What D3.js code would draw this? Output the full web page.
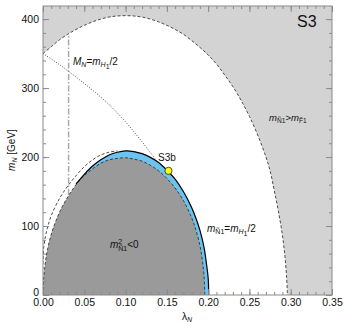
<!DOCTYPE html>
<html>
<head>
<meta charset="utf-8">
<script src="https://d3js.org/d3.v7.min.js"></script>
<style>
  body { margin: 0; background: #fff; }
  svg text { font-family: "Liberation Sans", Arial, sans-serif; fill: #111; }
  .eixo line { stroke: #8a8a8a; }
  .eixo path { display: none; }
  .eixo text { font-size: 10.5px; }
</style>
</head>
<body>
<div id="chart"></div>
<script>
"use strict"

// curvas: [lambda_N, m_N (GeV)]
var limiteFermion = [[0,350],[0.01,360],[0.02,370],[0.03,378],[0.04,385],[0.05,391],[0.06,396],[0.07,400],
  [0.08,403],[0.09,404.5],[0.10,405],[0.11,404.5],[0.12,403],[0.13,400],[0.14,396],[0.15,391],[0.16,385],
  [0.17,378],[0.18,369],[0.19,359],[0.20,348],[0.21,335],[0.22,319],[0.23,302],[0.24,282],[0.25,259],
  [0.26,232],[0.27,200],[0.275,180],[0.28,152],[0.285,122],[0.29,86],[0.293,56],[0.295,26],[0.296,0]];

var massaNegativa = [[0,0],[0.001,28],[0.003,48],[0.005,63],[0.01,88],[0.02,120],[0.03,142],[0.04,160],
  [0.05,173],[0.06,183],[0.07,191],[0.08,196],[0.09,198],[0.10,199],[0.11,197],[0.12,194],[0.13,188],
  [0.14,180],[0.15,169],[0.16,155],[0.17,137],[0.18,112],[0.185,95],[0.19,72],[0.193,50],[0.195,28],[0.196,0]];

var metadeHiggs = [[0.04,161],[0.05,175],[0.06,187],[0.07,196],[0.08,203],[0.09,207],[0.10,209],[0.11,208],
  [0.12,205],[0.13,199.5],[0.14,192],[0.15,181],[0.16,168],[0.17,150],[0.18,127],[0.185,112],[0.19,94],
  [0.195,69],[0.198,45],[0.2,25],[0.2007,0]];

var curvaEsquerda = [[0,45],[0.001,70],[0.003,85],[0.006,100],[0.01,115],[0.02,140],[0.03,158],[0.04,173],
  [0.05,186],[0.06,196],[0.07,203],[0.08,207],[0.09,209]];

var curvaPontilhada = [[0,350],[0.02,334],[0.04,316],[0.06,297],[0.08,276],[0.10,251],[0.12,222],[0.138,194]];

var linhaVertical = [[0.031,145],[0.031,378]];
var pontoS3b = [[0.152,180]];

var ticksX = [0, 0.05, 0.10, 0.15, 0.20, 0.25, 0.30, 0.35];
var ticksY = [0, 100, 200, 300, 400];
var ticksXmenor = d3.range(0, 0.351, 0.01);
var ticksYmenor = d3.range(0, 420, 20);

var larguraSVG = 344, alturaSVG = 324;
var margin = {top: 6, right: 12, bottom: 29, left: 43},
    larguraVis = larguraSVG - margin.left - margin.right,
    alturaVis = alturaSVG - margin.top - margin.bottom;

var svg = d3.select('#chart').append('svg')
    .attr('width', larguraSVG).attr('height', alturaSVG);
var grafico = svg.append('g')
    .attr('transform', 'translate(' + margin.left + ',' + margin.top + ')');

var x = d3.scaleLinear().domain([0, 0.35]).range([0, larguraVis]);
var y = d3.scaleLinear().domain([0, 419]).range([alturaVis, 0]);

grafico.append('clipPath').attr('id', 'recorte')
  .append('rect').attr('width', larguraVis).attr('height', alturaVis);

var area = d3.area().x(d => x(d[0])).y0(y(0)).y1(d => y(d[1])).curve(d3.curveCatmullRom);
var linha = d3.line().x(d => x(d[0])).y(d => y(d[1])).curve(d3.curveCatmullRom);

var regioes = grafico.append('g').attr('clip-path', 'url(#recorte)');

regioes.append('rect').attr('width', larguraVis).attr('height', alturaVis).attr('fill', '#d3d3d3');
regioes.append('path').datum(limiteFermion).attr('d', area).attr('fill', '#fff');
regioes.append('path').datum(metadeHiggs).attr('d', area).attr('fill', '#6cc3f0');
regioes.append('path').datum(massaNegativa).attr('d', area).attr('fill', '#9a9a9a');

regioes.append('path').datum(linhaVertical).attr('d', d3.line().x(d => x(d[0])).y(d => y(d[1])))
  .attr('fill', 'none').attr('stroke', '#aaa').attr('stroke-width', 1.5).attr('stroke-dasharray', '6,2,1.5,2');

regioes.append('path').datum(curvaPontilhada).attr('d', linha)
  .attr('fill', 'none').attr('stroke', '#222').attr('stroke-width', 0.8).attr('stroke-dasharray', '1,1.6');

regioes.append('path').datum(limiteFermion).attr('d', linha)
  .attr('fill', 'none').attr('stroke', '#222').attr('stroke-width', 0.8).attr('stroke-dasharray', '3,2');

regioes.append('path').datum(curvaEsquerda).attr('d', linha)
  .attr('fill', 'none').attr('stroke', '#222').attr('stroke-width', 0.8).attr('stroke-dasharray', '3,2');

regioes.append('path').datum(massaNegativa).attr('d', linha)
  .attr('fill', 'none').attr('stroke', '#222').attr('stroke-width', 0.8).attr('stroke-dasharray', '3,2');

regioes.append('path').datum(metadeHiggs).attr('d', linha)
  .attr('fill', 'none').attr('stroke', '#000').attr('stroke-width', 1.2);

regioes.selectAll('circle').data(pontoS3b).enter().append('circle')
  .attr('cx', d => x(d[0])).attr('cy', d => y(d[1])).attr('r', 3.6)
  .attr('fill', '#ffff00').attr('stroke', '#222').attr('stroke-width', 0.8);

// eixos com ticks para dentro
function eixo(gerador, transf, valores, tam, fmt) {
  return grafico.append('g').attr('class', 'eixo').attr('transform', transf)
    .call(gerador.tickValues(valores).tickSize(-tam).tickPadding(4).tickFormat(fmt));
}
var semTexto = () => '';
eixo(d3.axisBottom(x), 'translate(0,' + alturaVis + ')', ticksXmenor, 3, semTexto);
eixo(d3.axisBottom(x), 'translate(0,' + alturaVis + ')', ticksX, 6, d3.format('.2f'));
eixo(d3.axisTop(x), 'translate(0,0)', ticksXmenor, 3, semTexto);
eixo(d3.axisTop(x), 'translate(0,0)', ticksX, 6, semTexto);
eixo(d3.axisLeft(y), 'translate(0,0)', ticksYmenor, 3, semTexto);
var eixoY = eixo(d3.axisLeft(y), 'translate(0,0)', ticksY, 6, d3.format('d'));
eixoY.selectAll('text').filter(d => d === 0).attr('dy', '0.05em');
eixo(d3.axisRight(y), 'translate(' + larguraVis + ',0)', ticksYmenor, 3, semTexto);
eixo(d3.axisRight(y), 'translate(' + larguraVis + ',0)', ticksY, 6, semTexto);

grafico.append('rect').attr('width', larguraVis).attr('height', alturaVis)
  .attr('fill', 'none').attr('stroke', '#8a8a8a').attr('stroke-width', 1);

// rótulos: cada parte {t, i: itálico, dy: deslocamento, p: pequeno, dx}
function rotulo(pai, px, py, partes, tam) {
  var t = pai.append('text').attr('x', px).attr('y', py).style('font-size', tam + 'px');
  partes.forEach(function(p) {
    var s = t.append('tspan').text(p.t)
      .style('font-size', (p.p ? tam * 0.7 : tam) + 'px')
      .style('font-style', p.i ? 'italic' : 'normal');
    if (p.dy) s.attr('dy', p.dy);
    if (p.dx) s.attr('dx', p.dx);
  });
  return t;
}

rotulo(svg, 297, 27, [{t: 'S3'}], 16);
rotulo(svg, 158, 161, [{t: 'S3b'}], 10);
rotulo(svg, 73, 65, [{t: 'M', i: 1}, {t: 'N', i: 1, p: 1, dy: 2}, {t: '=', dy: -2}, {t: 'm', i: 1},
  {t: 'H', i: 1, p: 1, dy: 2}, {t: '1', p: 1, dy: 1.5}, {t: '/2', dy: -3.5}], 10);
rotulo(svg, 269, 121, [{t: 'm', i: 1}, {t: 'Ñ1', p: 1, dy: 2}, {t: '>', dy: -2}, {t: 'm', i: 1},
  {t: 'F̃1', p: 1, dy: 2}], 9.5);
rotulo(svg, 207, 232, [{t: 'm', i: 1}, {t: 'Ñ1', p: 1, dy: 2}, {t: '=', dy: -2}, {t: 'm', i: 1},
  {t: 'H', i: 1, p: 1, dy: 2}, {t: '1', p: 1, dy: 1.5}, {t: '/2', dy: -3.5}], 10);
rotulo(svg, 110, 248, [{t: 'm', i: 1}, {t: '2', p: 1, dy: -4}, {t: 'Ñ1', p: 1, dx: -4, dy: 7},
  {t: '<0', dy: -3}], 10);

rotulo(svg, 182, 320, [{t: 'λ'}, {t: 'N', i: 1, p: 1, dy: 2}], 10);
rotulo(svg, 0, 0, [{t: 'm', i: 1}, {t: 'N', i: 1, p: 1, dy: 2}, {t: ' [GeV]', dy: -2}], 10)
  .attr('text-anchor', 'middle').attr('transform', 'translate(15,150) rotate(-90)');
</script>
</body>
</html>
